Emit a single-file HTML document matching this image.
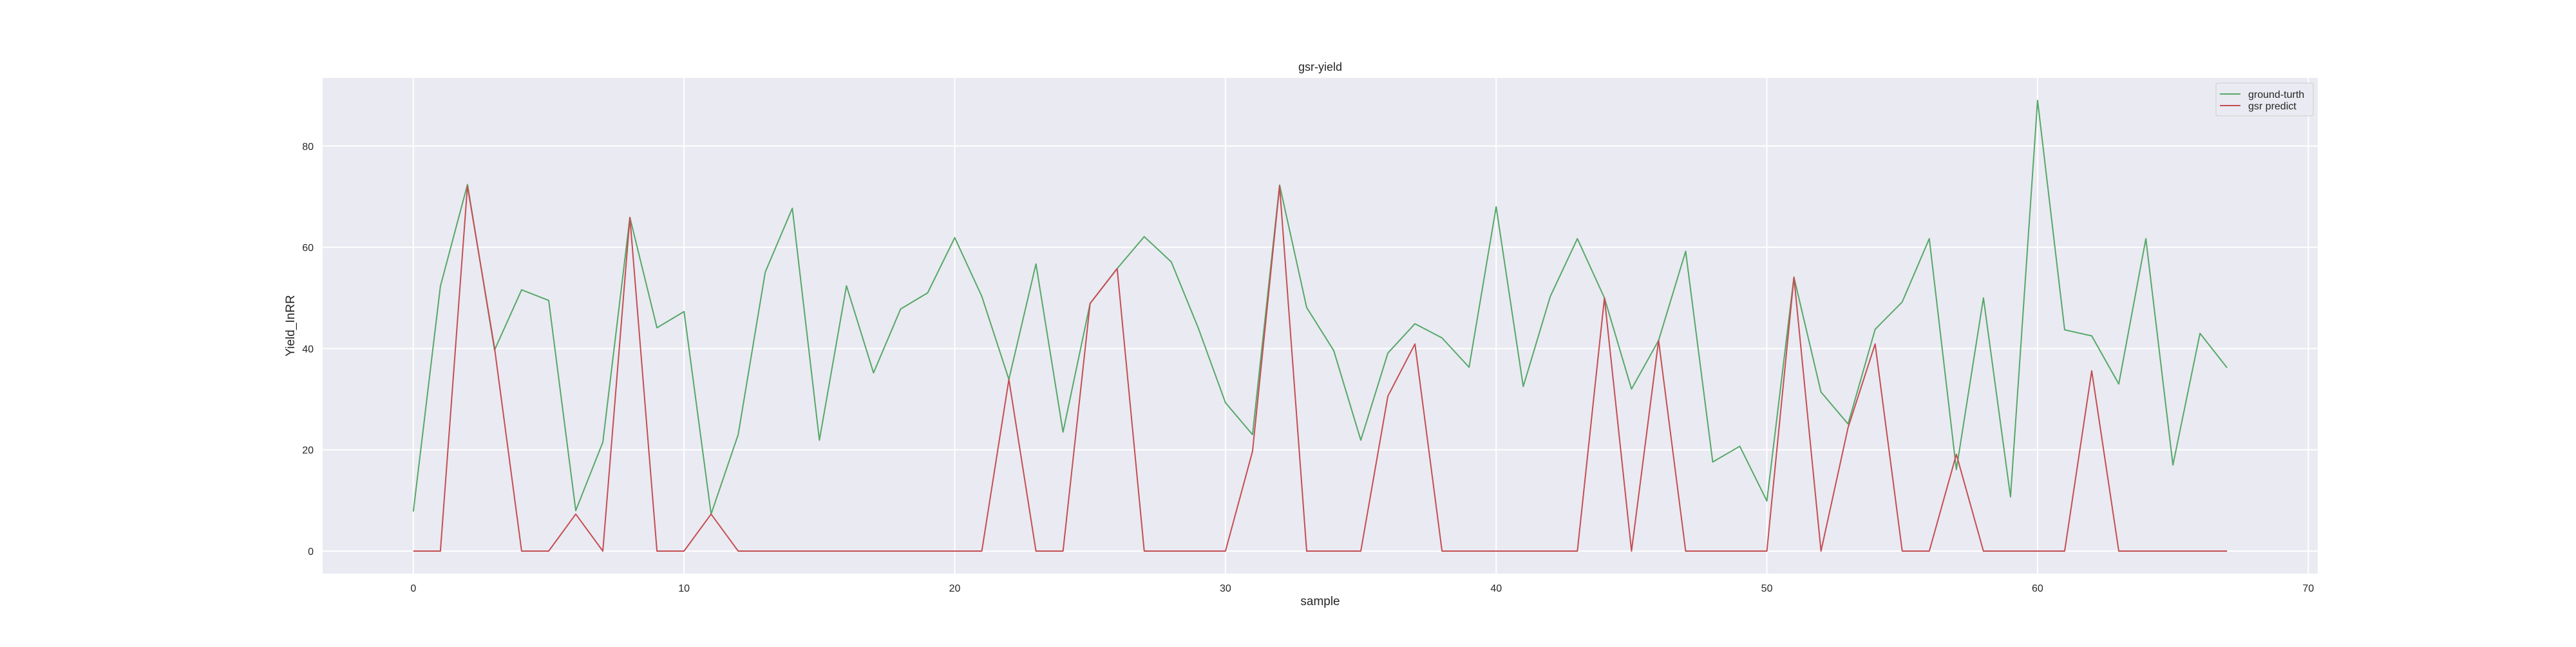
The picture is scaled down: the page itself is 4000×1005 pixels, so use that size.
<!DOCTYPE html>
<html><head><meta charset="utf-8"><style>
html,body{margin:0;padding:0;background:#fff}
svg text{font-family:"Liberation Sans",sans-serif;fill:#262626}
</style></head><body>
<svg id="chart" width="4000" height="1000" viewBox="0 0 4000 1000" xmlns="http://www.w3.org/2000/svg">
<rect x="501" y="121" width="3098" height="770" fill="#eaeaf2"/>
<g id="grid"></g>
<g id="series"></g>
<g id="ticks"></g>
<text x="2050" y="110" text-anchor="middle" font-size="18">gsr-yield</text>
<text x="2050" y="940" text-anchor="middle" font-size="19">sample</text>
<text x="0" y="0" transform="translate(457,506) rotate(-90)" text-anchor="middle" font-size="19">Yield_InRR</text>
<g>
<rect x="3441" y="129" width="151" height="51" rx="3" fill="#eaeaf2" stroke="#cccccc" stroke-width="1"/>
<line x1="3447" y1="146" x2="3479" y2="146" stroke="#55a868" stroke-width="2"/>
<text x="3491" y="152" font-size="16">ground-turth</text>
<line x1="3447" y1="164" x2="3479" y2="164" stroke="#c44e52" stroke-width="2"/>
<text x="3491" y="170" font-size="16">gsr predict</text>
</g>
</svg>
<script>
const groundTruth = [7.8,52.3,72.4,39.7,51.6,49.5,8.0,21.5,65.9,44.1,47.3,7.3,23.0,55.1,67.7,21.9,52.4,35.2,47.8,51.0,61.9,50.3,33.9,56.7,23.5,48.9,55.8,62.1,57.1,44.0,29.3,23.0,72.3,48.1,39.6,21.9,39.1,44.9,42.1,36.3,68.0,32.5,50.3,61.7,50.0,32.0,41.6,59.2,17.6,20.7,9.9,54.1,31.4,25.1,43.8,49.2,61.7,16.1,50.0,10.7,89.0,43.7,42.5,33.0,61.7,17.0,43.0,36.2];
const gsrPredict = [0,0,72.1,40.1,0,0,7.3,0,65.9,0,0,7.3,0,0,0,0,0,0,0,0,0,0,33.9,0,0,48.9,55.8,0,0,0,0,19.7,72.1,0,0,0,30.6,40.9,0,0,0,0,0,0,50.0,0,41.6,0,0,0,0,54.1,0,24.4,40.9,0,0,19.1,0,0,0,0,35.6,0,0,0,0,0];
const xTicks = [0,10,20,30,40,50,60,70];
const yTicks = [0,20,40,60,80];

const L=501,R=3599,T=121,B=891;
const n=groundTruth.length;
const allVals=groundTruth.concat(gsrPredict);
const xmin=0,xmax=n-1,xm=(xmax-xmin)*0.05;
const ymin=Math.min(...allVals),ymax=Math.max(...allVals),ym=(ymax-ymin)*0.05;
function sx(v){return L+(v-(xmin-xm))/((xmax+xm)-(xmin-xm))*(R-L);}
function sy(v){return B-(v-(ymin-ym))/((ymax+ym)-(ymin-ym))*(B-T);}
const NS="http://www.w3.org/2000/svg";
const grid=document.getElementById('grid'),ticks=document.getElementById('ticks'),series=document.getElementById('series');
xTicks.forEach(t=>{
  const x=sx(t);
  const l=document.createElementNS(NS,'line');
  
  
  l.setAttribute('x1',x);l.setAttribute('x2',x);l.setAttribute('y1',T);l.setAttribute('y2',B);
  l.setAttribute('stroke','#fff');l.setAttribute('stroke-width','2');
  grid.appendChild(l);
  const tx=document.createElementNS(NS,'text');
  
  
  tx.setAttribute('x',x);tx.setAttribute('y',B+28);tx.setAttribute('text-anchor','middle');tx.setAttribute('font-size','16');
  tx.textContent=t;ticks.appendChild(tx);
});
yTicks.forEach(t=>{
  const y=sy(t);
  const l=document.createElementNS(NS,'line');
  
  
  l.setAttribute('x1',L);l.setAttribute('x2',R);l.setAttribute('y1',y);l.setAttribute('y2',y);
  l.setAttribute('stroke','#fff');l.setAttribute('stroke-width','2');
  grid.appendChild(l);
  const tx=document.createElementNS(NS,'text');
  
  
  tx.setAttribute('x',L-14);tx.setAttribute('y',y+6);tx.setAttribute('text-anchor','end');tx.setAttribute('font-size','16');
  tx.textContent=t;ticks.appendChild(tx);
});
function drawLine(arr,color,name){
  const p=document.createElementNS(NS,'polyline');
  
  
  p.setAttribute('points',arr.map((v,i)=>sx(i)+','+sy(v)).join(' '));
  p.setAttribute('fill','none');p.setAttribute('stroke',color);p.setAttribute('stroke-width','2');
  p.setAttribute('stroke-linejoin','round');
  series.appendChild(p);
}
drawLine(groundTruth,'#55a868','ground-turth-line');
drawLine(gsrPredict,'#c44e52','gsr-predict-line');
</script>
</body></html>
